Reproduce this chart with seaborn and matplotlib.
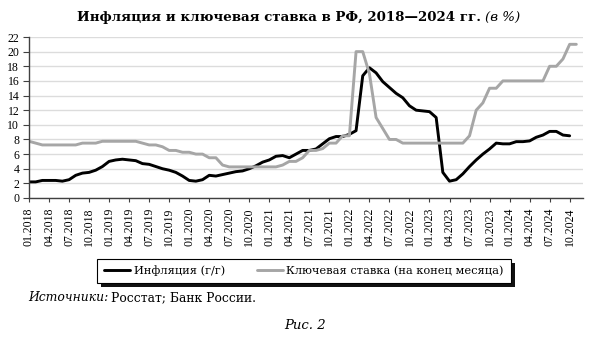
import numpy as np
import pandas as pd
import matplotlib
matplotlib.use('Agg')
import matplotlib.pyplot as plt
import seaborn as sns
from matplotlib.patches import Rectangle

# Data (monthly, 01.2018 onward)

inflation = [2.2, 2.2, 2.4, 2.4, 2.4, 2.3, 2.5, 3.1, 3.4, 3.5, 3.8, 4.3,
             5.0, 5.2, 5.3, 5.2, 5.1, 4.7, 4.6, 4.3, 4.0, 3.8, 3.5, 3.0,
             2.4, 2.3, 2.5, 3.1, 3.0, 3.2, 3.4, 3.6, 3.7, 4.0, 4.4, 4.9,
             5.2, 5.7, 5.8, 5.5, 6.0, 6.5, 6.5, 6.7, 7.4, 8.1, 8.4, 8.4,
             8.7, 9.2, 16.7, 17.8, 17.1, 15.9, 15.1, 14.3, 13.7, 12.6, 12.0, 11.9,
             11.8, 11.0, 3.5, 2.3, 2.5, 3.3, 4.3, 5.2, 6.0, 6.7, 7.5, 7.4,
             7.4, 7.7, 7.7, 7.8, 8.3, 8.6, 9.1, 9.1, 8.6, 8.5]

key_rate = [7.75, 7.5, 7.25, 7.25, 7.25, 7.25, 7.25, 7.25, 7.5, 7.5, 7.5, 7.75,
            7.75, 7.75, 7.75, 7.75, 7.75, 7.5, 7.25, 7.25, 7.0, 6.5, 6.5, 6.25,
            6.25, 6.0, 6.0, 5.5, 5.5, 4.5, 4.25, 4.25, 4.25, 4.25, 4.25, 4.25,
            4.25, 4.25, 4.5, 5.0, 5.0, 5.5, 6.5, 6.5, 6.75, 7.5, 7.5, 8.5,
            8.5, 20.0, 20.0, 17.0, 11.0, 9.5, 8.0, 8.0, 7.5, 7.5, 7.5, 7.5,
            7.5, 7.5, 7.5, 7.5, 7.5, 7.5, 8.5, 12.0, 13.0, 15.0, 15.0, 16.0,
            16.0, 16.0, 16.0, 16.0, 16.0, 16.0, 18.0, 18.0, 19.0, 21.0, 21.0]

tick_labels = [f'{m:02d}.{y}' for y in range(2018, 2025) for m in (1, 4, 7, 10)]

label_infl = 'Инфляция (г/г)'
label_rate = 'Ключевая ставка (на конец месяца)'

W, H = 590, 345

# Setup

sns.set_theme(style='white')
plt.rcParams['font.family'] = ['Liberation Serif', 'DejaVu Serif']
plt.rcParams['text.color'] = 'black'

df = pd.DataFrame({'month': np.arange(len(key_rate)),
                   label_rate: key_rate,
                   label_infl: inflation + [np.nan] * (len(key_rate) - len(inflation))})
long = df.melt(id_vars='month', var_name='series', value_name='value').dropna()

fig = plt.figure(figsize=(5.9, 3.45), dpi=100)
ax = fig.add_axes([29 / W, 1 - 198 / H, 554 / W, 161 / H])

sns.lineplot(data=long, x='month', y='value', hue='series',
             hue_order=[label_infl, label_rate],
             palette=['#000000', '#a6a6a6'], linewidth=2.1, legend=False, ax=ax)

ax.set_xlim(0, 83)
ax.set_ylim(0, 22)
ax.set_yticks(range(0, 23, 2))
ax.set_xticks(range(0, 82, 3))
ax.set_xticklabels(tick_labels, rotation=90)
ax.set_xlabel('')
ax.set_ylabel('')
ax.yaxis.grid(True, color='#dcdcdc', linewidth=1)
ax.set_axisbelow(True)
for side in ['top', 'right']:
    ax.spines[side].set_visible(False)
for side in ['left', 'bottom']:
    ax.spines[side].set_color('#404040')
    ax.spines[side].set_linewidth(1.0)
ax.tick_params(axis='both', labelsize=8.5, colors='#404040', labelcolor='black',
               width=0.8, left=True, bottom=True)
ax.tick_params(axis='y', length=4, pad=3)
ax.tick_params(axis='x', length=3, pad=4)

serif_wide = ['DejaVu Serif']


def text_after(prev, s, gap=3, **kw):
    fig.canvas.draw()
    bb = prev.get_window_extent()
    x, y = prev.get_position()
    return fig.text((bb.x1 + gap) / W, y, s, ha='left', va='baseline', **kw)


# Title
t1 = fig.text(77 / W, 1 - 21 / H, 'Инфляция и ключевая ставка в РФ, 2018—2024 гг.',
              ha='left', va='baseline', fontsize=9.6, fontweight='bold', family=serif_wide)
text_after(t1, '(в %)', gap=4, fontsize=9.6, style='italic', family=serif_wide)

# Legend
handles = [plt.Line2D([], [], color='#000000', lw=2.1),
           plt.Line2D([], [], color='#a6a6a6', lw=2.1)]
leg = fig.legend(handles, [label_infl, label_rate], loc='center',
                 bbox_to_anchor=(304 / W, 1 - 271 / H), ncol=2,
                 prop={'family': serif_wide, 'size': 8.2},
                 frameon=True, fancybox=False, shadow=False,
                 handlelength=2.3, handletextpad=0.3, columnspacing=2.8,
                 borderpad=0.6)
leg.get_frame().set_edgecolor('black')
leg.get_frame().set_linewidth(0.8)
leg.get_frame().set_alpha(1)
leg.set_zorder(5)

fig.canvas.draw()
lb = leg.get_window_extent()
fig.patches.append(Rectangle(((lb.x0 + 4) / W, (lb.y0 - 4) / H), lb.width / W, lb.height / H,
                             transform=fig.transFigure, facecolor='#111111',
                             edgecolor='none', zorder=4))

# Notes
s1 = fig.text(28 / W, 1 - 301 / H, 'Источники:', ha='left', va='baseline',
              fontsize=8.9, style='italic', family=serif_wide)
text_after(s1, 'Росстат; Банк России.', gap=3, fontsize=8.9, family=serif_wide)
fig.text(305 / W, 1 - 329 / H, 'Рис. 2', ha='center', va='baseline',
         fontsize=9.5, style='italic', family=serif_wide)

plt.savefig('out.png', dpi=100)
plt.close()
